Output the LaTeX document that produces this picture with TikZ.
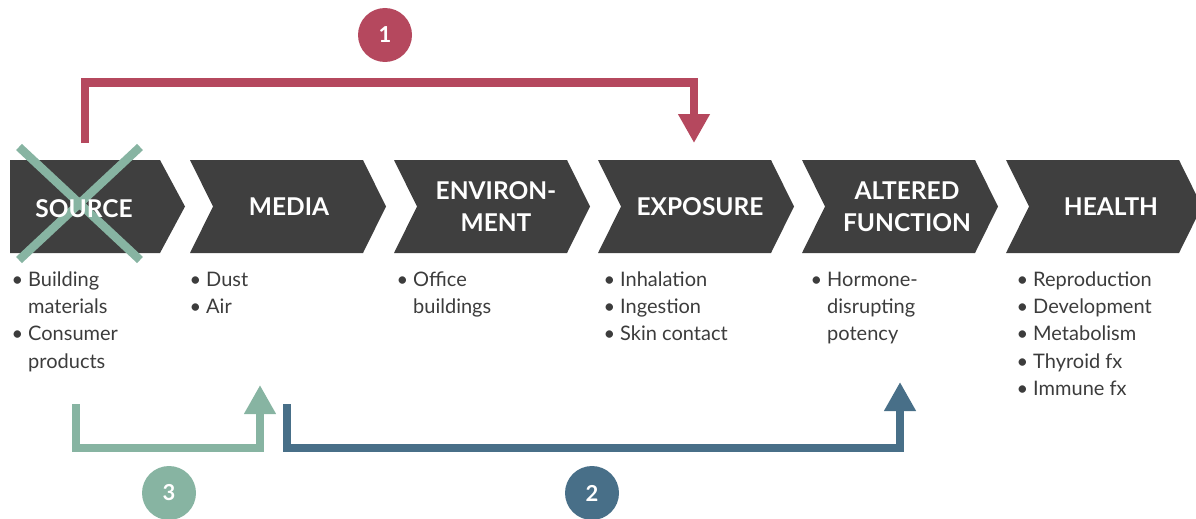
\documentclass[tikz,border=0pt]{standalone}
\usepackage{fontspec}
\setmainfont{Lato}
\usetikzlibrary{arrows.meta}
\definecolor{chev}{HTML}{3F3F3F}
\definecolor{txt}{HTML}{3C3C3C}
\definecolor{redc}{HTML}{B5485E}
\definecolor{greenc}{HTML}{87B4A2}
\definecolor{bluec}{HTML}{486F88}
\tikzset{
  chevbox/.style={fill=chev, draw=none},
  title/.style={text=white, font=\fontsize{24.5}{32.5}\selectfont\bfseries, align=center, inner sep=0pt},
  body/.style={text=txt, font=\fontsize{20}{27.3}\selectfont, align=left, inner sep=0pt, anchor=north west},
  conn/.style={line width=8.5pt, line join=miter, -{Triangle[length=29pt,width=30pt]}},
  badge/.style={circle, minimum size=54pt, inner sep=0pt, text=white, font=\fontsize{22}{22}\selectfont\bfseries},
}
\newcommand{\bl}{\llap{\textbullet\hspace{5pt}}}
\begin{document}
\begin{tikzpicture}[x=1pt,y=-1pt]
\useasboundingbox (0,0) rectangle (1196,519);
% chevrons
\fill[chevbox] (10,160) -- (160,160) -- (185,206.5) -- (160,253) -- (10,253) -- cycle;
\foreach \x in {190,394,598,802,1006}{
  \fill[chevbox] (\x,160) -- (\x+173,160) -- (\x+196,206.5) -- (\x+173,253) -- (\x,253) -- (\x+23,206.5) -- cycle;
}
% X over source (under its title)
\draw[greenc, line width=8.5pt] (19,147) -- (140,260) (140,147) -- (19,260);
% titles
\node[title] (source) at (84,208.5) {SOURCE};
\node[title] (media) at (289,206.5) {MEDIA};
\node[title] (environment) at (496,206.5) {ENVIRON-\\MENT};
\node[title] (exposure) at (700,206.5) {EXPOSURE};
\node[title] (altered) at (907,206.5) {ALTERED\\FUNCTION};
\node[title] (health) at (1111,206.5) {HEALTH};
% body lists (first baseline at y=286; strut height 0.7*27.3=19.11)
\node[body] (l1) at (28,266.9) {\strut\bl Building\\materials\\\bl Consumer\\products};
\node[body] (l2) at (206,266.9) {\strut\bl Dust\\\bl Air};
\node[body] (l3) at (413,266.9) {\strut\bl Office\\buildings};
\node[body] (l4) at (620,266.9) {\strut\bl Inhalation\\\bl Ingestion\\\bl Skin contact};
\node[body] (l5) at (827,266.9) {\strut\bl Hormone-\\disrupting\\potency};
\node[body] (l6) at (1033,266.9) {\strut\bl Reproduction\\\bl Development\\\bl Metabolism\\\bl Thyroid fx\\\bl Immune fx};
% connector endpoints
\coordinate (r0) at (85,143);
\coordinate (r1) at (694,143);
\coordinate (g0) at (76,404);
\coordinate (g1) at (260,385);
\coordinate (b0) at (287,404);
\coordinate (b1) at (900,382);
\draw[conn, redc] (r0) -- (r0 |- 0,82.5) -- (r1 |- 0,82.5) -- (r1);
\draw[conn, greenc] (g0) -- (g0 |- 0,448) -- (g1 |- 0,448) -- (g1);
\draw[conn, bluec] (b0) -- (b0 |- 0,448) -- (b1 |- 0,448) -- (b1);
% badges
\node[badge, fill=redc] (n1) at (385,35) {1};
\node[badge, fill=bluec] (n2) at (592,493) {2};
\node[badge, fill=greenc] (n3) at (169,493) {3};
\end{tikzpicture}
\end{document}
